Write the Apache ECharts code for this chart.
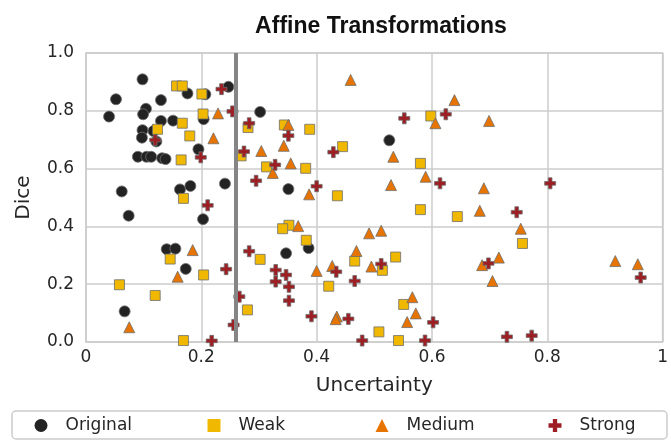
<!DOCTYPE html>
<html>
<head>
<meta charset="utf-8">
<script src="https://cdn.jsdelivr.net/npm/echarts@6/dist/echarts.min.js"></script>
<style>
  html, body { margin: 0; padding: 0; background: #fff; }
  #chart { width: 671px; height: 440px; }
</style>
</head>
<body>
<div id="chart"></div>
<script>
// [uncertainty, dice]
const original = [
  [0.098,0.909],[0.052,0.840],[0.040,0.780],[0.130,0.837],[0.104,0.807],[0.099,0.788],
  [0.176,0.860],[0.207,0.857],[0.247,0.883],[0.302,0.796],[0.204,0.771],[0.130,0.765],
  [0.151,0.766],[0.098,0.733],[0.097,0.707],[0.117,0.730],[0.122,0.694],[0.195,0.667],
  [0.090,0.641],[0.105,0.641],[0.113,0.641],[0.132,0.636],[0.138,0.633],[0.241,0.548],
  [0.163,0.528],[0.181,0.540],[0.062,0.521],[0.074,0.437],[0.203,0.425],[0.140,0.321],
  [0.155,0.323],[0.173,0.253],[0.067,0.106],[0.526,0.698],[0.351,0.529],[0.347,0.307],
  [0.386,0.325]
];
const weak = [
  [0.157,0.886],[0.167,0.886],[0.201,0.858],[0.203,0.789],[0.167,0.757],[0.124,0.736],
  [0.180,0.713],[0.165,0.630],[0.281,0.742],[0.269,0.644],[0.313,0.606],[0.169,0.497],
  [0.146,0.287],[0.204,0.232],[0.058,0.198],[0.120,0.161],[0.169,0.005],[0.302,0.286],
  [0.280,0.111],[0.344,0.751],[0.388,0.736],[0.445,0.676],[0.381,0.601],[0.598,0.782],
  [0.580,0.618],[0.436,0.506],[0.580,0.458],[0.644,0.434],[0.352,0.404],[0.341,0.392],
  [0.382,0.352],[0.466,0.280],[0.537,0.294],[0.514,0.248],[0.421,0.193],[0.551,0.130],
  [0.508,0.035],[0.542,0.005],[0.757,0.341]
];
const medium = [
  [0.229,0.791],[0.221,0.705],[0.304,0.661],[0.324,0.585],[0.185,0.318],[0.159,0.226],
  [0.075,0.051],[0.459,0.907],[0.639,0.837],[0.606,0.757],[0.351,0.751],[0.343,0.679],
  [0.355,0.618],[0.533,0.641],[0.589,0.572],[0.529,0.543],[0.387,0.511],[0.368,0.401],
  [0.491,0.376],[0.512,0.385],[0.469,0.315],[0.427,0.263],[0.400,0.246],[0.495,0.261],
  [0.566,0.155],[0.572,0.099],[0.557,0.069],[0.435,0.088],[0.433,0.079],[0.699,0.765],
  [0.690,0.532],[0.683,0.454],[0.754,0.392],[0.716,0.292],[0.687,0.266],[0.705,0.211],
  [0.918,0.280],[0.957,0.269]
];
const strong = [
  [0.235,0.875],[0.254,0.798],[0.283,0.757],[0.120,0.699],[0.199,0.639],[0.274,0.659],
  [0.328,0.613],[0.295,0.558],[0.211,0.473],[0.283,0.314],[0.243,0.252],[0.266,0.157],
  [0.256,0.059],[0.218,0.004],[0.329,0.249],[0.329,0.209],[0.351,0.714],[0.552,0.774],
  [0.624,0.788],[0.429,0.657],[0.400,0.539],[0.614,0.549],[0.347,0.232],[0.352,0.191],
  [0.352,0.143],[0.391,0.089],[0.455,0.080],[0.434,0.243],[0.466,0.211],[0.512,0.270],
  [0.602,0.068],[0.479,0.005],[0.588,0.005],[0.805,0.549],[0.747,0.449],[0.698,0.272],
  [0.962,0.223],[0.730,0.018],[0.773,0.022]
];
const threshold = 0.264;

const xTickLabels = ['0', '0.2', '0.4', '0.6', '0.8', '1'];
const yTickLabels = ['0.0', '0.2', '0.4', '0.6', '0.8', '1.0'];
const seriesNames = ['Original', 'Weak', 'Medium', 'Strong'];

const plus = 'path://M2,0H4V2H6V4H4V6H2V4H0V2H2Z';
const styles = [
  { symbol: 'circle', size: 11, color: '#232323' },
  { symbol: 'rect', size: 10, color: '#f1b800' },
  { symbol: 'triangle', size: 11, color: '#e77400' },
  { symbol: plus, size: 11, color: '#9d1e23' }
];
const legendCenters = [41, 214, 382, 555];

const chart = echarts.init(document.getElementById('chart'));
const font = 'DejaVu Sans';

const option = {
  animation: false,
  title: {
    text: 'Affine Transformations',
    left: 376,
    textAlign: 'center',
    top: 10,
    textStyle: { fontFamily: 'Liberation Sans', fontWeight: 'bold', fontSize: 23, color: '#111' }
  },
  grid: {
    left: 86, right: 7, top: 53, bottom: 98,
    show: true, borderColor: '#cccccc', borderWidth: 1.5
  },
  xAxis: {
    type: 'value', min: 0, max: 1, interval: 0.2,
    name: 'Uncertainty', nameLocation: 'middle', nameGap: 34,
    nameTextStyle: { fontFamily: font, fontSize: 20, color: '#262626' },
    axisLine: { show: false }, axisTick: { show: false },
    axisLabel: {
      fontFamily: font, fontSize: 17, color: '#262626', margin: 7,
      formatter: (v) => xTickLabels[Math.round(v / 0.2)]
    },
    splitLine: { lineStyle: { color: '#cccccc', width: 1.5 } }
  },
  yAxis: {
    type: 'value', min: 0, max: 1, interval: 0.2,
    name: 'Dice', nameLocation: 'middle', nameGap: 52,
    nameTextStyle: { fontFamily: font, fontSize: 20, color: '#262626' },
    axisLine: { show: false }, axisTick: { show: false },
    axisLabel: {
      fontFamily: font, fontSize: 17, color: '#262626', margin: 12,
      formatter: (v) => yTickLabels[Math.round(v / 0.2)]
    },
    splitLine: { lineStyle: { color: '#cccccc', width: 1.5 } }
  },
  legend: seriesNames.map((name, i) => ({
    data: [name],
    left: legendCenters[i] - 6.5,
    top: 417,
    padding: 0,
    itemWidth: 13,
    itemHeight: 13,
    itemStyle: { borderWidth: 0 },
    textStyle: { fontFamily: font, fontSize: 17, color: '#262626', padding: [0, 0, 0, 13] }
  })),
  graphic: [{
    type: 'rect',
    shape: { x: 12, y: 411, width: 655, height: 28, r: 4 },
    style: { fill: 'none', stroke: '#cccccc', lineWidth: 1.5 },
    silent: true
  }],
  series: [original, weak, medium, strong].map((data, i) => ({
    name: seriesNames[i],
    type: 'scatter',
    data: data,
    symbol: styles[i].symbol,
    symbolSize: styles[i].size,
    itemStyle: { color: styles[i].color, borderColor: '#6e6e6e', borderWidth: 0.8, opacity: 1 }
  })).concat([{
    name: 'threshold',
    type: 'scatter',
    data: [],
    z: 5,
    markLine: {
      silent: true,
      symbol: 'none',
      label: { show: false },
      lineStyle: { color: '#858585', width: 4, type: 'solid' },
      data: [{ xAxis: threshold }]
    }
  }])
};

chart.setOption(option);
</script>
</body>
</html>
